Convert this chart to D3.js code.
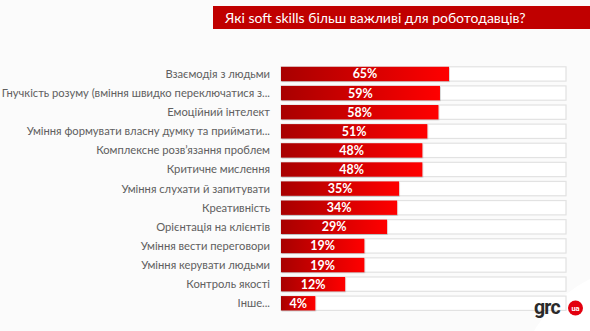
<!DOCTYPE html>
<html>
<head>
<meta charset="utf-8">
<script src="https://cdn.jsdelivr.net/npm/d3@7"></script>
<style>
  html, body { margin: 0; padding: 0; background: #fbfbfb; }
  svg { display: block; }
</style>
</head>
<body>
<svg id="chart" width="590" height="331"></svg>
<script>
const title = "Які soft skills більш важливі для роботодавців?";
const categories = [
  "Взаємодія з людьми",
  "Гнучкість розуму (вміння швидко переключатися з...",
  "Емоційний інтелект",
  "Уміння формувати власну думку та приймати...",
  "Комплексне розв’язання проблем",
  "Критичне мислення",
  "Уміння слухати й запитувати",
  "Креативність",
  "Орієнтація на клієнтів",
  "Уміння вести переговори",
  "Уміння керувати людьми",
  "Контроль якості",
  "Інше..."
];
const values = [65, 59, 58, 51, 48, 48, 35, 34, 29, 19, 19, 12, 4];

const svg = d3.select("#chart");
const W = 590, H = 331;

svg.append("rect").attr("width", W).attr("height", H).attr("fill", "#fbfbfb");
svg.append("circle").attr("cx", 650).attr("cy", 400).attr("r", 135).attr("fill", "#ffffff");

const defs = svg.append("defs");
const grad = defs.append("linearGradient").attr("id", "barGrad")
  .attr("x1", "0%").attr("x2", "100%").attr("y1", "0%").attr("y2", "0%");
grad.append("stop").attr("offset", "0%").attr("stop-color", "#a80000");
grad.append("stop").attr("offset", "100%").attr("stop-color", "#ff0000");

const shadow = defs.append("filter").attr("id", "sh").attr("x", "-5%").attr("y", "-20%").attr("width", "110%").attr("height", "150%");
shadow.append("feDropShadow").attr("dx", 0.6).attr("dy", 0.8).attr("stdDeviation", 0.6).attr("flood-color", "#000").attr("flood-opacity", 0.25);

// title banner
svg.append("rect").attr("x", 213).attr("y", 6).attr("width", W - 213).attr("height", 23).attr("fill", "#c00000");
svg.append("text").attr("x", 225).attr("y", 22.5).text(title)
  .attr("fill", "#ffffff").attr("font-family", "Lato, 'Open Sans', sans-serif")
  .attr("font-size", 14);

const x0 = 281, trackEnd = 566;
const x = d3.scalePow().exponent(0.57).domain([0, 65]).range([0, 168]);
const y = d3.scaleBand().domain(categories).range([64.5, 312.7]).paddingInner(0.25).paddingOuter(0.12);

const rows = svg.append("g").selectAll("g").data(categories).join("g")
  .attr("transform", d => `translate(0,${y(d)})`);

rows.append("rect").attr("x", x0).attr("y", 0).attr("width", trackEnd - x0).attr("height", y.bandwidth())
  .attr("fill", "#ffffff").attr("stroke", "#e2e2e2").attr("stroke-width", 1.2);

rows.append("rect").attr("x", x0).attr("y", 0)
  .attr("width", (d, i) => x(values[i])).attr("height", y.bandwidth())
  .attr("fill", "url(#barGrad)").attr("filter", "url(#sh)");

rows.append("text").attr("x", 270).attr("y", y.bandwidth() / 2).attr("dy", "0.35em")
  .attr("text-anchor", "end").text(d => d)
  .attr("fill", "#606060").attr("font-family", "Lato, 'Open Sans', sans-serif").attr("font-size", 11.2);

rows.append("text").attr("x", (d, i) => x0 + x(values[i]) / 2).attr("y", y.bandwidth() / 2).attr("dy", "0.36em")
  .attr("text-anchor", "middle").text((d, i) => values[i] + "%")
  .attr("fill", "#ffffff").attr("font-weight", "bold")
  .attr("font-family", "Lato, 'Open Sans', sans-serif").attr("font-size", 12.5);

// logo
svg.append("text").attr("x", 534).attr("y", 314).text("grc")
  .attr("fill", "#2a2a2a").attr("font-weight", "bold")
  .attr("font-family", "Roboto, Lato, sans-serif").attr("font-size", 19.5).attr("letter-spacing", -0.8);
svg.append("circle").attr("cx", 575.5).attr("cy", 308).attr("r", 7.5).attr("fill", "#e3000f");
svg.append("text").attr("x", 575.5).attr("y", 310.5).text("ua").attr("text-anchor", "middle")
  .attr("fill", "#ffffff").attr("font-weight", "bold")
  .attr("font-family", "Roboto, Lato, sans-serif").attr("font-size", 7.5);
</script>
</body>
</html>
